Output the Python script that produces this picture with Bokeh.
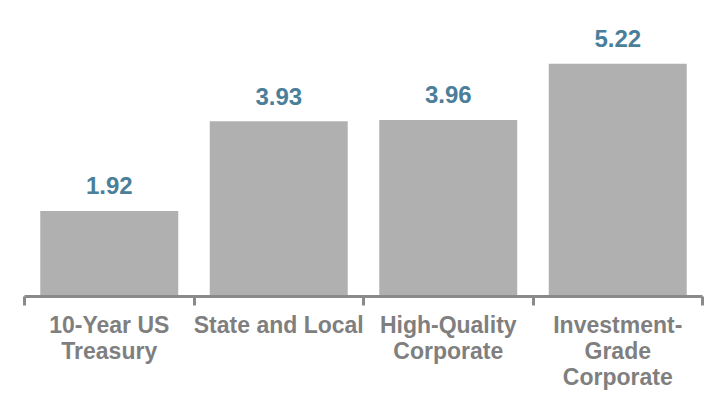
from bokeh.plotting import figure
from bokeh.models import Range1d, FixedTicker, ColumnDataSource
from bokeh.core.properties import value
from bokeh.embed import file_html
from bokeh.resources import INLINE

categories = ["10-Year US\nTreasury", "State and Local", "High-Quality\nCorporate", "Investment-\nGrade\nCorporate"]
yields = [1.92, 3.93, 3.96, 5.22]
labels = ["%.2f" % v for v in yields]

n = len(categories)
centers = [i + 0.5 for i in range(n)]
src = ColumnDataSource(dict(x=centers, top=yields, label=labels))

p = figure(width=705, height=394, output_backend="svg", toolbar_location=None,
           x_range=Range1d(0, n), y_range=Range1d(0, 6.64),
           y_axis_location=None, min_border_left=24, min_border_right=3,
           min_border_top=0, min_border_bottom=98, outline_line_color=None,
           background_fill_color="white", border_fill_color="white")
p.grid.visible = False

p.vbar(x="x", top="top", width=0.814, source=src, fill_color="#b0b0b0", line_color=None)
p.text(x="x", y="top", text="label", source=src, text_align="center", text_baseline="alphabetic",
       y_offset=-25, text_font=value("Liberation Sans"), text_font_style="bold",
       text_font_size="24px", text_color="#4a7e99")

ax = p.xaxis[0]
ax.ticker = FixedTicker(ticks=centers, minor_ticks=list(range(n + 1)))
ax.major_label_overrides = {c: categories[i] for i, c in enumerate(centers)}
ax.axis_line_color = "#8a8a8a"
ax.axis_line_width = 3
ax.major_tick_line_color = None
ax.minor_tick_line_color = "#8a8a8a"
ax.minor_tick_line_width = 3
ax.minor_tick_out = 9
ax.minor_tick_in = 0
ax.major_tick_out = 9
ax.major_tick_in = 0
ax.major_label_standoff = 6
ax.major_label_text_font = "Liberation Sans"
ax.major_label_text_font_style = "bold"
ax.major_label_text_font_size = "23px"
ax.major_label_text_color = "#7f7f7f"
ax.major_label_text_line_height = 1.0

open("out.html", "w").write(file_html(p, INLINE))
